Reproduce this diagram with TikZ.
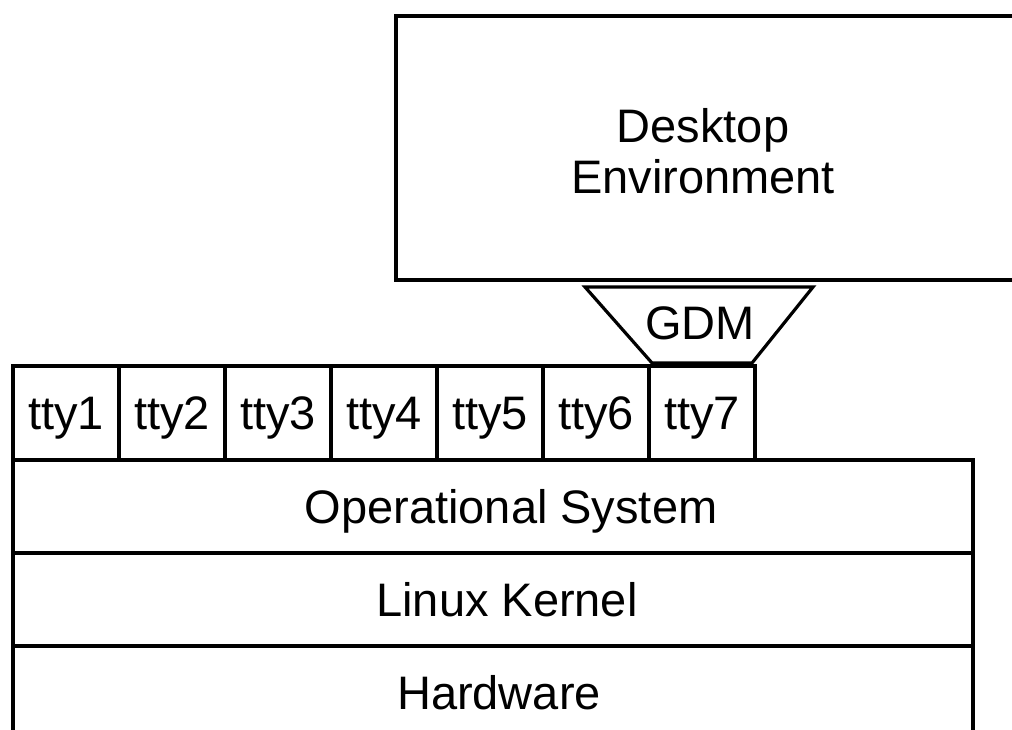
\documentclass[tikz,border=0pt]{standalone}
\usepackage{fontspec}
\setmainfont{Liberation Sans}
\usepackage{tikz}
\usetikzlibrary{positioning}

\tikzset{
  layer/.style={draw, line width=1.8pt, outer sep=0pt, inner sep=0pt, text depth=0pt,
    font=\fontsize{23.5}{25.5}\selectfont},
  ttybox/.style={layer, minimum width=53pt, minimum height=47pt},
  stackbox/.style={layer, minimum width=480pt, minimum height=46.5pt},
}

\begin{document}
\begin{tikzpicture}[x=0.5pt, y=-0.5pt]
		\useasboundingbox (0,0) rectangle (1012,729);

		% Desktop environment (runs past the right edge)
		\node[layer, minimum width=314pt, minimum height=132pt, anchor=north west] (de) at (396,16) {};
		\node[align=center, inner sep=0pt, font=\fontsize{23.5}{25.5}\selectfont] (detext) at (703,151) {Desktop\\Environment};

		% GDM funnel
		\coordinate (gdmtl) at (585,287);
		\coordinate (gdmtr) at (813,287);
		\coordinate (gdmbr) at (752,363);
		\coordinate (gdmbl) at (652,363);
		\draw[line width=1.6pt, line join=miter] (gdmtl) -- (gdmtr) -- (gdmbr) -- (gdmbl) -- cycle;
		\node[inner sep=0pt, text depth=0pt, font=\fontsize{23.5}{25.5}\selectfont] (gdm) at (700,323) {GDM};

		% Terminals
		\node[ttybox, anchor=north west] (tty1) at (13,366) {tty1};
		\foreach \i [remember=\i as \prev (initially 1)] in {2,...,7} {
			\node[ttybox, right=0pt of tty\prev] (tty\i) {tty\i};
		}

		% Layers
		\node[stackbox, anchor=north west] (os) at (tty1.south west) {\hspace*{18pt}Operational System};
		\node[stackbox, below=0pt of os] (kernel) {\hspace*{14pt}Linux Kernel};
		\node[stackbox, below=0pt of kernel] (hw) {\hspace*{6pt}Hardware};
\end{tikzpicture}
\end{document}
